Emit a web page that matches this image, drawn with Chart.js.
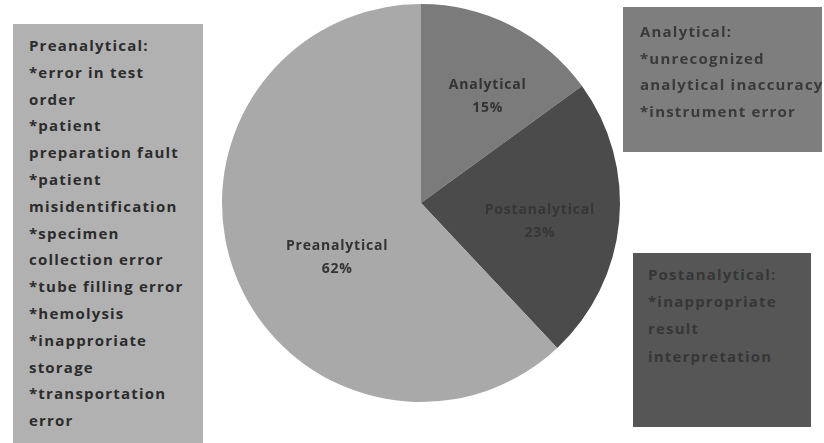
<!DOCTYPE html>
<html>
<head>
<meta charset="utf-8">
<script src="https://cdn.jsdelivr.net/npm/chart.js@4.4.1/dist/chart.umd.min.js"></script>
<style>
  html, body { margin: 0; padding: 0; background: #ffffff; }
  #wrap { position: relative; width: 824px; height: 443px; overflow: hidden; }
  #c { position: absolute; left: 0; top: 0; }
  .box { position: absolute; font-family: "Open Sans", sans-serif; font-weight: 700; font-size: 15px; letter-spacing: 1.2px; }
  .box div { position: absolute; white-space: nowrap; line-height: 18px; }
  #boxPre { left: 13px; top: 24px; width: 190px; height: 419px; background: #b1b1b1; color: #2c2c2c; }
  #boxAna { left: 623px; top: 7px; width: 199px; height: 145px; background: #7e7e7e; color: #3a3a3a; }
  #boxPost { left: 633px; top: 253px; width: 178px; height: 174px; background: #565656; color: #363636; }
</style>
</head>
<body>
<div id="wrap">
  <canvas id="c" width="824" height="443"></canvas>
  <div class="box" id="boxPre"></div>
  <div class="box" id="boxAna"></div>
  <div class="box" id="boxPost"></div>
</div>
<script>
// ---- data ----
const categories = ['Analytical', 'Postanalytical', 'Preanalytical'];
const percentValues = [15, 23, 62];
const sliceColors = ['#7b7b7b', '#4b4b4b', '#a9a9a9'];

const preanalyticalNotes = ['Preanalytical:', '*error in test', 'order', '*patient', 'preparation fault', '*patient', 'misidentification', '*specimen', 'collection error', '*tube filling error', '*hemolysis', '*inapproriate', 'storage', '*transportation', 'error'];
const analyticalNotes = ['Analytical:', '*unrecognized', 'analytical inaccuracy', '*instrument error'];
const postanalyticalNotes = ['Postanalytical:', '*inappropriate', 'result', 'interpretation'];

// ---- note boxes ----
function fillBox(id, lines, x0, y0, step) {
  const box = document.getElementById(id);
  lines.forEach((t, i) => {
    const d = document.createElement('div');
    d.textContent = t;
    d.style.left = x0 + 'px';
    d.style.top = (y0 + i * step - 9) + 'px';
    box.appendChild(d);
  });
}
fillBox('boxPre', preanalyticalNotes, 16, 21, 26.8);
fillBox('boxAna', analyticalNotes, 17, 24, 26.6);
fillBox('boxPost', postanalyticalNotes, 15, 21, 27.2);

// ---- slice label plugin ----
const sliceLabels = {
  id: 'sliceLabels',
  afterDatasetsDraw(chart) {
    const ctx = chart.ctx;
    const meta = chart.getDatasetMeta(0);
    ctx.save();
    ctx.font = 'bold 14px "Open Sans", sans-serif';
    if ('letterSpacing' in ctx) ctx.letterSpacing = '0.8px';
    ctx.textAlign = 'center';
    ctx.textBaseline = 'middle';
    const textColors = ['#333333', '#363636', '#333333'];
    const radial = [0.632, 0.604, 0.5];
    const turn = [5, 3, -11];
    meta.data.forEach((arc, i) => {
      const p = arc.getProps(['x', 'y', 'startAngle', 'endAngle', 'outerRadius'], true);
      const mid = (p.startAngle + p.endAngle) / 2 + turn[i] * Math.PI / 180;
      const r = p.outerRadius * radial[i];
      const cx = p.x + Math.cos(mid) * r;
      const cy = p.y + Math.sin(mid) * r;
      ctx.fillStyle = textColors[i];
      ctx.fillText(categories[i], cx, cy - 11);
      ctx.fillText(percentValues[i] + '%', cx, cy + 12);
    });
    ctx.restore();
  }
};

new Chart(document.getElementById('c'), {
  type: 'pie',
  data: {
    labels: categories,
    datasets: [{
      data: percentValues,
      backgroundColor: sliceColors,
      borderWidth: 0
    }]
  },
  options: {
    responsive: false,
    animation: false,
    layout: { padding: { left: 221, right: 203, top: 4, bottom: 41 } },
    plugins: { legend: { display: false }, tooltip: { enabled: false } }
  },
  plugins: [sliceLabels]
});
</script>
</body>
</html>
